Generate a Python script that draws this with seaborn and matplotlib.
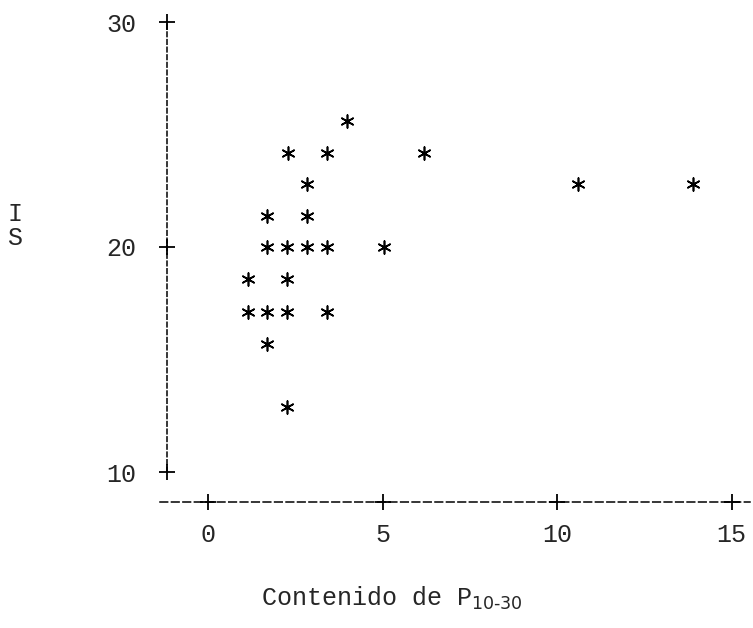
import matplotlib
matplotlib.use("Agg")
import matplotlib.pyplot as plt
import seaborn as sns
import pandas as pd

# ---- data ----
contenido_p = [3.98, 2.30, 3.40, 6.20, 2.85, 10.60, 13.90,
               1.70, 2.85,
               1.70, 2.25, 2.85, 3.40, 5.05,
               1.15, 2.25,
               1.15, 1.70, 2.25, 3.40,
               1.70, 2.25]
indice_s = [25.6, 24.2, 24.2, 24.2, 22.8, 22.8, 22.8,
            21.4, 21.4,
            20.0, 20.0, 20.0, 20.0, 20.0,
            18.6, 18.6,
            17.1, 17.1, 17.1, 17.1,
            15.7, 12.9]
x_ticks = [0, 5, 10, 15]
y_ticks = [10, 20, 30]
x_ticklabels = ["0", "5", "10", "15"]
y_ticklabels = ["10", "20", "30"]

df = pd.DataFrame({"x": contenido_p, "y": indice_s})

sns.set_style("white")
plt.rcParams["font.family"] = ["Liberation Mono", "DejaVu Sans Mono"]
plt.rcParams["mathtext.fontset"] = "custom"
plt.rcParams["mathtext.rm"] = "Liberation Sans Narrow"
plt.rcParams["mathtext.it"] = "Liberation Sans Narrow"

W, H = 753, 628
fig = plt.figure(figsize=(W / 100, H / 100), dpi=100)
L, R, B, T = 160, 750, 502, 22
ax = fig.add_axes([L / W, 1 - B / H, (R - L) / W, (B - T) / H])

sns.scatterplot(data=df, x="x", y="y", ax=ax, marker=(6, 2, 0),
                s=85, color="black", linewidth=1.2, legend=False)

# data limits from pixel mapping: x px = 208 + 34.9*x, y px = 247 - 22.5*(y-20)
ax.set_xlim((L - 208) / 34.9, (R - 208) / 34.9)
ax.set_ylim(20 - (B - 247) / 22.5, 30.0)

for side in ("top", "right"):
    ax.spines[side].set_visible(False)
xspine = (167 - 208) / 34.9
ax.spines["left"].set_position(("data", xspine))
ax.spines["left"].set_bounds(10, 30)
ax.spines["left"].set_linestyle((0, (3, 2)))
ax.spines["left"].set_linewidth(1.1)
ax.spines["bottom"].set_linestyle((0, (5, 2.5)))
ax.spines["bottom"].set_linewidth(1.1)
for s in ("left", "bottom"):
    ax.spines[s].set_color("black")

ax.set_xticks(x_ticks)
ax.set_xticklabels(x_ticklabels, fontsize=18)
ax.set_yticks(y_ticks)
ax.set_yticklabels(y_ticklabels, fontsize=18)
ax.tick_params(axis="both", length=0)
ax.tick_params(axis="x", pad=15)
ax.tick_params(axis="y", pad=22)

# "+" tick marks on the axes
ax.plot([xspine] * len(y_ticks), y_ticks, linestyle="none", marker="+",
        markersize=11, mew=1.3, color="black", clip_on=False)
ybot = ax.get_ylim()[0]
ax.plot(x_ticks, [ybot] * len(x_ticks), linestyle="none", marker="+",
        markersize=11, mew=1.3, color="black", clip_on=False)

ax.set_xlabel(r"Contenido de P$_{\mathrm{10\text{-}30}}$", fontsize=18)
ax.xaxis.set_label_coords((392 - L) / (R - L), -(598 - B) / (B - T))
ax.xaxis.label.set_va("center")
ax.set_ylabel("I\nS", rotation=0, fontsize=18, linespacing=1.0)
ax.yaxis.set_label_coords((15 - L) / (R - L), (B - 226) / (B - T))
ax.yaxis.label.set_va("center")
ax.yaxis.label.set_ha("center")

fig.savefig("out.png", dpi=100, facecolor="white")
